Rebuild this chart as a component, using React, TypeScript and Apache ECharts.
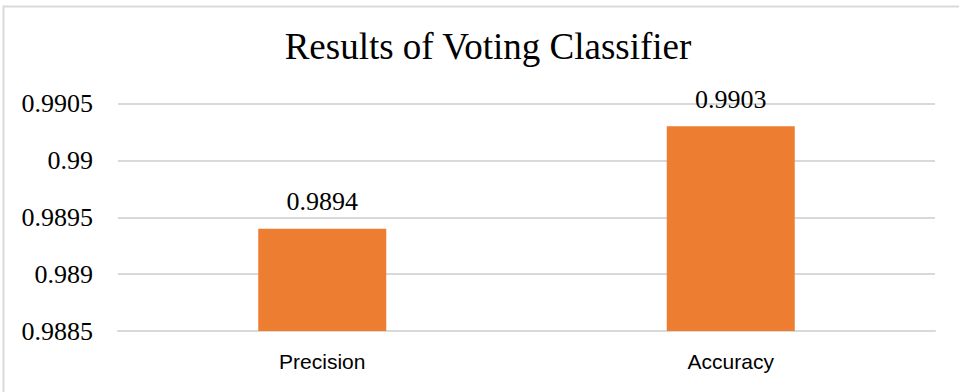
import React, { useEffect, useRef } from "react";
import * as echarts from "echarts";

const categories = ["Precision", "Accuracy"];
const values = [0.9894, 0.9903];
const yMin = 0.9885;
const yMax = 0.9905;
const yInterval = 0.0005;
const titleText = "Results of Voting Classifier";

export default function App() {
  const ref = useRef<HTMLDivElement>(null);
  useEffect(() => {
    const chart = echarts.init(ref.current!, null, { renderer: "svg" });
    chart.setOption({
      animation: false,
      backgroundColor: "#ffffff",
      title: {
        text: titleText,
        left: 483,
        textAlign: "center",
        top: 23,
        textStyle: {
          fontFamily: "Liberation Serif",
          fontSize: 37,
          fontWeight: "normal",
          color: "#000000",
        },
      },
      graphic: [
        {
          type: "rect",
          shape: { x: 3.5, y: 6.5, width: 1000, height: 500 },
          style: { fill: "none", stroke: "#d9d9d9", lineWidth: 2 },
          silent: true,
        },
      ],
      grid: { left: 118, right: 24, top: 103.5, bottom: 61 },
      xAxis: {
        type: "category",
        data: categories,
        axisLine: { show: true, lineStyle: { color: "#d9d9d9", width: 2 } },
        axisTick: { show: false },
        axisLabel: {
          fontFamily: "Liberation Sans",
          fontSize: 21,
          color: "#000000",
          margin: 20,
        },
      },
      yAxis: {
        type: "value",
        min: yMin,
        max: yMax,
        interval: yInterval,
        axisLine: { show: false },
        axisTick: { show: false },
        splitLine: { lineStyle: { color: "#d9d9d9", width: 2 } },
        axisLabel: {
          fontFamily: "Liberation Serif",
          fontSize: 26,
          color: "#000000",
          margin: 25,
          formatter: (v: number) => String(parseFloat(v.toFixed(4))),
        },
      },
      series: [
        {
          type: "bar",
          data: values,
          barWidth: 128,
          itemStyle: { color: "#ED7D31" },
          label: {
            show: true,
            position: "top",
            distance: 14,
            fontFamily: "Liberation Serif",
            fontSize: 26,
            color: "#000000",
            formatter: (p: any) => String(p.value),
          },
        },
      ],
    });
    return () => chart.dispose();
  }, []);
  return (
    <div
      ref={ref}
      style={{ position: "fixed", left: 0, top: 0, width: 959, height: 392 }}
    />
  );
}
